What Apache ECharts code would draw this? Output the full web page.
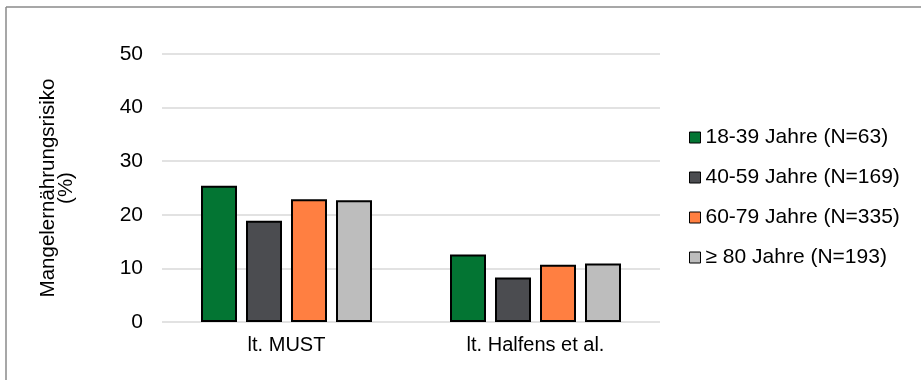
<!DOCTYPE html>
<html>
<head>
<meta charset="utf-8">
<script src="https://cdn.jsdelivr.net/npm/echarts@6/dist/echarts.min.js"></script>
<style>
html,body{margin:0;padding:0;background:#fff;}
#chart{width:921px;height:380px;}
</style>
</head>
<body>
<div id="chart"></div>
<script>
const categories = ['lt. MUST', 'lt. Halfens et al.'];
const seriesNames = ['18-39 Jahre (N=63)', '40-59 Jahre (N=169)', '60-79 Jahre (N=335)', '≥ 80 Jahre (N=193)'];
const age18to39 = [25.4, 12.6];
const age40to59 = [18.9, 8.3];
const age60to79 = [22.9, 10.7];
const age80plus = [22.7, 10.9];
const yTicks = [0, 10, 20, 30, 40, 50];
const yAxisTitle = 'Mangelernährungsrisiko\n(%)';

const colors = ['#037533', '#4b4c50', '#ff7f41', '#bdbdbd'];
const values = [age18to39, age40to59, age60to79, age80plus];
const font = 'Liberation Sans, Arial, sans-serif';

const chart = echarts.init(document.getElementById('chart'), null, {renderer: 'canvas'});
chart.setOption({
  animation: false,
  backgroundColor: '#fff',
  graphic: [
    {type: 'line', shape: {x1: 6, y1: 7, x2: 921, y2: 7}, style: {stroke: '#8a8a8a', lineWidth: 1.5}},
    {type: 'line', shape: {x1: 6, y1: 7, x2: 6, y2: 380}, style: {stroke: '#8a8a8a', lineWidth: 1.5}}
  ],
  grid: {left: 162, right: 261, top: 54, bottom: 58, containLabel: false},
  legend: {
    orient: 'vertical',
    left: 689,
    top: 127,
    padding: 0,
    itemWidth: 11,
    itemHeight: 11,
    itemGap: 19,
    icon: 'rect',
    textStyle: {fontFamily: font, fontSize: 21, color: '#000'},
    itemStyle: {borderColor: '#000', borderWidth: 1},
    data: seriesNames
  },
  xAxis: {
    type: 'category',
    data: categories,
    axisLine: {show: false},
    axisTick: {show: false},
    axisLabel: {fontFamily: font, fontSize: 20, color: '#000', margin: 13}
  },
  yAxis: {
    type: 'value',
    min: yTicks[0],
    max: yTicks[yTicks.length - 1],
    interval: 10,
    name: yAxisTitle,
    nameLocation: 'middle',
    nameGap: 87,
    nameTextStyle: {fontFamily: font, fontSize: 20.5, color: '#000', lineHeight: 18},
    axisLine: {show: false},
    axisTick: {show: false},
    axisLabel: {fontFamily: font, fontSize: 21, color: '#000', margin: 19},
    splitLine: {lineStyle: {color: '#d9d9d9', width: 1.5}}
  },
  series: values.map((v, i) => ({
    name: seriesNames[i],
    type: 'bar',
    data: v,
    barWidth: 36,
    barGap: '25%',
    itemStyle: {color: colors[i], borderColor: '#000', borderWidth: 2}
  }))
});
</script>
</body>
</html>
